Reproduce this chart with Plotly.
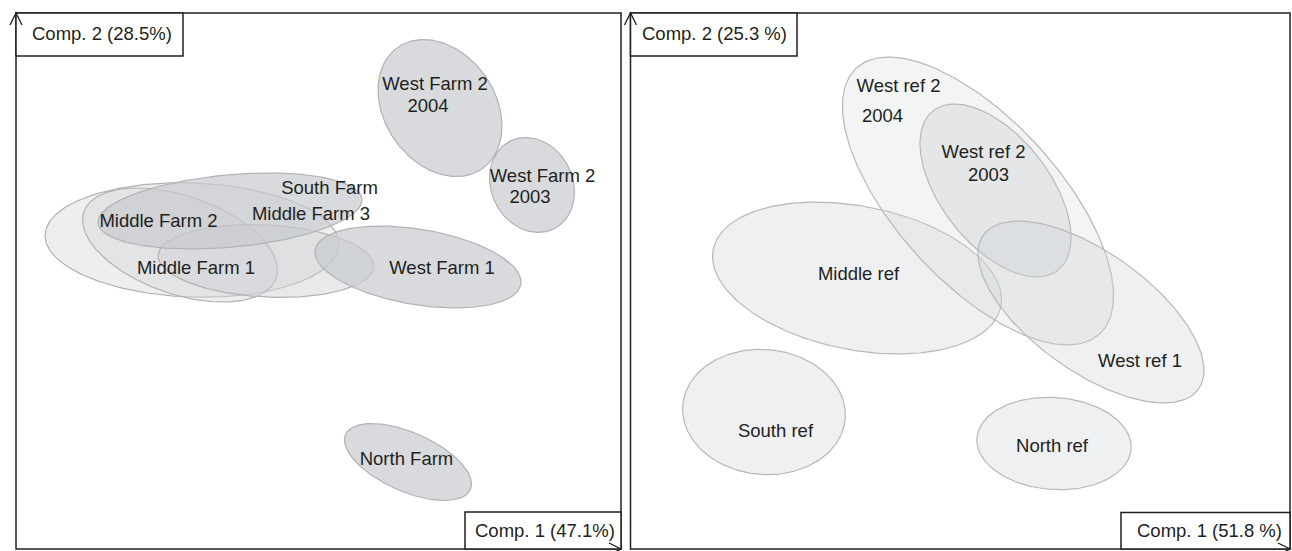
import numpy as np
import plotly.graph_objects as go

# ---------------------------------------------------------------------------
# Ordination results: 95% confidence ellipses of sample scores on the first
# two components (score units; centre, semi-axes, rotation in degrees)
# ---------------------------------------------------------------------------
farm_names = ["Middle Farm 3", "Middle Farm 2", "Middle Farm 1", "South Farm",
              "West Farm 1", "West Farm 2 2004", "West Farm 2 2003", "North Farm"]
farm_cx = [-1.265, -1.385, -0.525, -0.885, 0.995, 1.215, 2.135, 0.895]
farm_cy = [0.41, 0.36, 0.20, 0.70, 0.14, 1.73, 0.96, -1.81]
farm_major = [1.47, 1.017, 1.08, 1.325, 1.043, 0.739, 0.49, 0.682]
farm_minor = [0.57, 0.491, 0.36, 0.362, 0.377, 0.554, 0.407, 0.294]
farm_angle = [-2.0, -19.0, -3.0, 5.2, -9.5, -55.4, -63.5, -23.8]

ref_names = ["Middle ref", "West ref 2 2004", "West ref 2 2003", "West ref 1",
             "South ref", "North ref"]
ref_cx = [-1.03, 0.18, 0.355, 1.31, -1.96, 0.94]
ref_cy = [0.03, 0.80, 0.905, -0.31, -1.31, -1.625]
ref_major = [1.466, 1.802, 1.012, 1.323, 0.815, 0.773]
ref_minor = [0.718, 0.814, 0.542, 0.595, 0.625, 0.46]
ref_angle = [-11.2, -47.6, -52.0, -35.6, -5.0, -4.0]

# Explained variance of the plotted components
farm_axis_titles = ["Comp. 1 (47.1%)", "Comp. 2 (28.5%)"]
ref_axis_titles = ["Comp. 1 (51.8 %)", "Comp. 2 (25.3 %)"]

# Group labels (text lines and their anchor in score units)
farm_label_text = ["West Farm 2", "2004", "West Farm 2", "2003", "South Farm",
                   "Middle Farm 3", "Middle Farm 2", "Middle Farm 1",
                   "West Farm 1", "North Farm"]
farm_label_x = [1.165, 1.095, 2.24, 2.115, 0.11, -0.075, -1.60, -1.225, 1.235, 0.88]
farm_label_y = [1.96, 1.74, 1.04, 0.83, 0.92, 0.66, 0.59, 0.12, 0.12, -1.79]

ref_label_text = ["West ref 2", "2004", "West ref 2", "2003", "Middle ref",
                  "West ref 1", "South ref", "North ref"]
ref_label_x = [-0.615, -0.775, 0.235, 0.285, -1.015, 1.80, -1.845, 0.92]
ref_label_y = [1.94, 1.64, 1.28, 1.05, 0.06, -0.81, -1.51, -1.66]

# ---------------------------------------------------------------------------
# Styling
# ---------------------------------------------------------------------------
W, H = 1292, 551
FONT = "Liberation Sans, Arial, Helvetica, sans-serif"
FONT_SIZE = 18.5
INK = "#231f20"

farm_fill = ["rgba(226,229,227,0.62)", "rgba(214,216,218,0.45)",
             "rgba(205,207,211,0.45)", "rgba(200,202,207,0.70)",
             "rgba(200,202,207,0.70)", "rgba(200,202,207,0.70)",
             "rgba(200,202,207,0.70)", "rgba(200,202,207,0.70)"]
farm_edge = "#b2b2b2"
ref_fill = ["rgba(205,207,210,0.32)", "rgba(215,222,219,0.30)",
            "rgba(200,202,207,0.35)", "rgba(205,207,210,0.32)",
            "rgba(205,207,210,0.32)", "rgba(205,207,210,0.32)"]
ref_edge = "#b8b8b8"


def ellipse(cx, cy, a, b, angle_deg, n=240):
    t = np.linspace(0, 2 * np.pi, n)
    phi = np.deg2rad(angle_deg)
    x = cx + a * np.cos(phi) * np.cos(t) - b * np.sin(phi) * np.sin(t)
    y = cy + a * np.sin(phi) * np.cos(t) + b * np.cos(phi) * np.sin(t)
    return x, y


fig = go.Figure()

panels = [
    dict(xa="x", ya="y", names=farm_names, cx=farm_cx, cy=farm_cy,
         ma=farm_major, mi=farm_minor, ang=farm_angle, fills=farm_fill,
         edge=farm_edge, lt=farm_label_text, lx=farm_label_x, ly=farm_label_y),
    dict(xa="x2", ya="y2", names=ref_names, cx=ref_cx, cy=ref_cy,
         ma=ref_major, mi=ref_minor, ang=ref_angle, fills=ref_fill,
         edge=ref_edge, lt=ref_label_text, lx=ref_label_x, ly=ref_label_y),
]

for p in panels:
    for i, name in enumerate(p["names"]):
        ex, ey = ellipse(p["cx"][i], p["cy"][i], p["ma"][i], p["mi"][i], p["ang"][i])
        fig.add_trace(go.Scatter(
            x=ex, y=ey, mode="lines", fill="toself", name=name,
            fillcolor=p["fills"][i], line=dict(color=p["edge"], width=1.2),
            xaxis=p["xa"], yaxis=p["ya"], hoverinfo="name", showlegend=False))
    fig.add_trace(go.Scatter(
        x=p["lx"], y=p["ly"], text=p["lt"], mode="text",
        textposition="middle center",
        textfont=dict(family=FONT, size=FONT_SIZE, color=INK),
        xaxis=p["xa"], yaxis=p["ya"], hoverinfo="skip", showlegend=False))


def px(x):
    return x / W


def py(y):
    return 1 - y / H


# Panel frames in pixels: left, top, right, bottom
frames = [(16, 13, 621, 549), (630.5, 13, 1290, 549)]
# Axis-title boxes: (x0, y0, x1, y1, text centre x, text centre y)
title_boxes = [
    (16, 13, 183, 56, 102, 34, farm_axis_titles[1]),
    (465, 512, 621, 549, 545, 530, farm_axis_titles[0]),
    (630.5, 13, 797, 56, 715, 34, ref_axis_titles[1]),
    (1121, 512.5, 1290, 549, 1209, 530, ref_axis_titles[0]),
]

shapes = []
annotations = []
for (l, t, r, b) in frames:
    shapes.append(dict(type="rect", xref="paper", yref="paper",
                       x0=px(l), x1=px(r), y0=py(b), y1=py(t),
                       line=dict(color=INK, width=1.5), layer="above"))

for (x0, y0, x1, y1, tx, ty, txt) in title_boxes:
    shapes.append(dict(type="rect", xref="paper", yref="paper",
                       x0=px(x0), x1=px(x1), y0=py(y1), y1=py(y0),
                       fillcolor="white", line=dict(color=INK, width=1.5),
                       layer="above"))
    annotations.append(dict(xref="paper", yref="paper", x=px(tx), y=py(ty),
                            text=txt, showarrow=False, xanchor="center",
                            yanchor="middle",
                            font=dict(family=FONT, size=FONT_SIZE, color=INK)))

# Open arrowheads: up on the vertical axis, right on the horizontal axis
for (l, t, r, b) in frames:
    shapes.append(dict(type="path", xref="paper", yref="paper",
                       path=f"M {px(l - 6)},{py(t + 12)} L {px(l)},{py(t)} L {px(l + 6)},{py(t + 12)}",
                       line=dict(color=INK, width=1.3), layer="above"))
    shapes.append(dict(type="path", xref="paper", yref="paper",
                       path=f"M {px(r - 12)},{py(b - 6)} L {px(r)},{py(b)} L {px(r - 12)},{py(b + 6)}",
                       line=dict(color=INK, width=1.3), layer="above"))

axis_common = dict(visible=False, showgrid=False, zeroline=False, fixedrange=True)

fig.update_layout(
    width=W, height=H,
    margin=dict(l=0, r=0, t=0, b=0),
    paper_bgcolor="white", plot_bgcolor="rgba(0,0,0,0)",
    xaxis=dict(domain=[px(16), px(621)], range=[-3.025, 3.025], **axis_common),
    yaxis=dict(domain=[py(549), py(13)], range=[-2.68, 2.68], **axis_common),
    xaxis2=dict(domain=[px(630), px(1290)], range=[-3.3, 3.3], anchor="y2", **axis_common),
    yaxis2=dict(domain=[py(549), py(13)], range=[-2.68, 2.68], anchor="x2", **axis_common),
    shapes=shapes,
    annotations=annotations,
    showlegend=False,
)

fig.write_html("out.html")
